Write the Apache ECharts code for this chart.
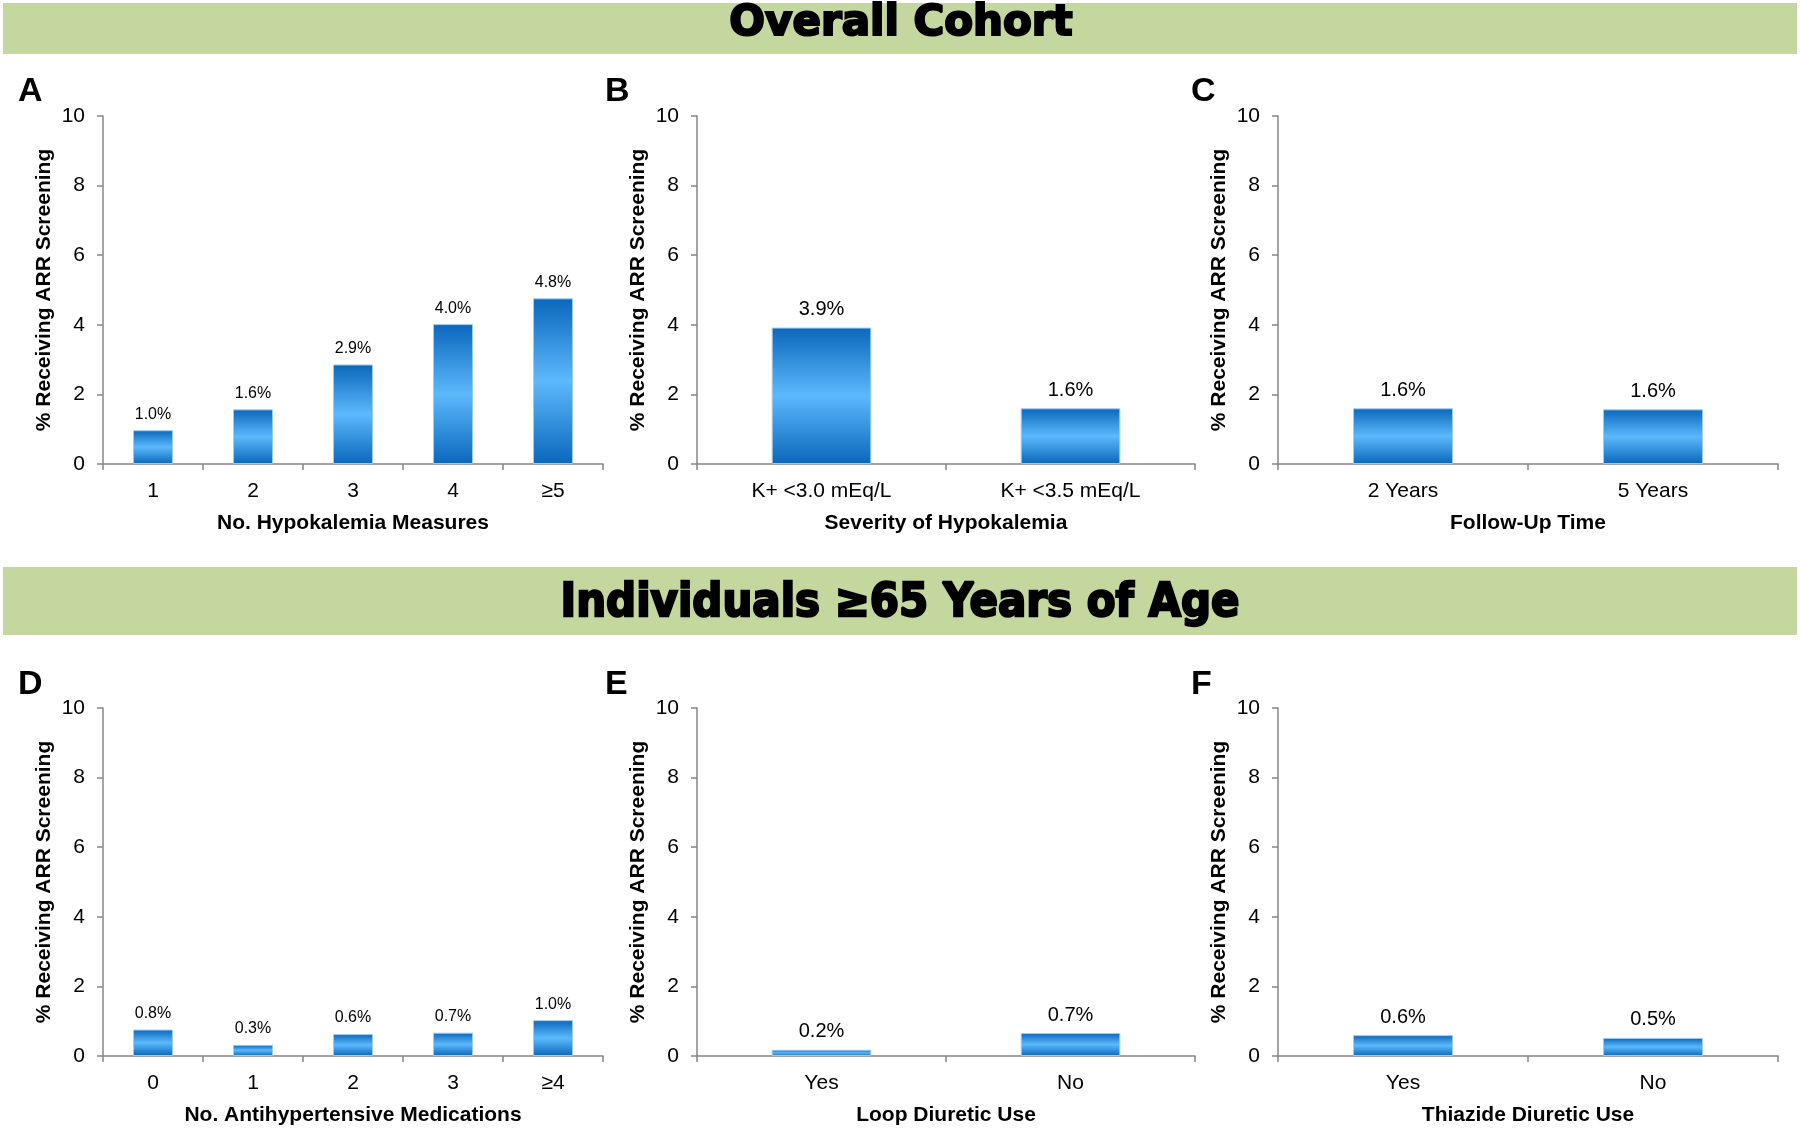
<!DOCTYPE html>
<html>
<head>
<meta charset="utf-8">
<script src="https://cdn.jsdelivr.net/npm/echarts@6/dist/echarts.min.js"></script>
<style>
  html, body { margin: 0; padding: 0; background: #ffffff; }
  #chart { width: 1800px; height: 1130px; }
</style>
</head>
<body>
<div id="chart"></div>
<script>
// ---------- data ----------
const catsA = ['1', '2', '3', '4', '≥5'];
const valsA = [0.97, 1.57, 2.86, 4.02, 4.76];
const catsB = ['K+ <3.0 mEq/L', 'K+ <3.5 mEq/L'];
const valsB = [3.92, 1.6];
const catsC = ['2 Years', '5 Years'];
const valsC = [1.6, 1.57];
const catsD = ['0', '1', '2', '3', '≥4'];
const valsD = [0.76, 0.32, 0.63, 0.67, 1.03];
const catsE = ['Yes', 'No'];
const valsE = [0.18, 0.66];
const catsF = ['Yes', 'No'];
const valsF = [0.6, 0.52];

const yMin = 0, yMax = 10, yStep = 2;
const yTitle = '% Receiving ARR Screening';
const xTitles = ['No. Hypokalemia Measures', 'Severity of Hypokalemia', 'Follow-Up Time',
                 'No. Antihypertensive Medications', 'Loop Diuretic Use', 'Thiazide Diuretic Use'];
const panelLetters = ['A', 'B', 'C', 'D', 'E', 'F'];
const sectionTitles = ['Overall Cohort', 'Individuals ≥65 Years of Age'];

// ---------- layout ----------
const panels = [
  { cats: catsA, vals: valsA, left: 103, top: 116, width: 500, lab: 16 },
  { cats: catsB, vals: valsB, left: 697, top: 116, width: 498, lab: 20 },
  { cats: catsC, vals: valsC, left: 1278, top: 116, width: 500, lab: 20 },
  { cats: catsD, vals: valsD, left: 103, top: 708, width: 500, lab: 16 },
  { cats: catsE, vals: valsE, left: 697, top: 708, width: 498, lab: 20 },
  { cats: catsF, vals: valsF, left: 1278, top: 708, width: 500, lab: 20 }
];
const plotH = 348;
const FONT = '"Liberation Sans", Arial, sans-serif';
const TITLE_FONT = '"DejaVu Sans", sans-serif';
const axisGray = '#868686';

const barColor = {
  type: 'linear', x: 0, y: 0, x2: 0, y2: 1,
  colorStops: [
    { offset: 0, color: '#0a67bc' },
    { offset: 0.5, color: '#5cb9fc' },
    { offset: 1, color: '#0a67bc' }
  ]
};

const grid = [], xAxis = [], yAxis = [], series = [];
panels.forEach((p, i) => {
  grid.push({ left: p.left, top: p.top, width: p.width, height: plotH, containLabel: false });
  xAxis.push({
    type: 'category', gridIndex: i, data: p.cats,
    name: xTitles[i], nameLocation: 'middle', nameGap: 49,
    nameTextStyle: { fontFamily: FONT, fontWeight: 'bold', fontSize: 21, color: '#000' },
    axisLine: { lineStyle: { color: axisGray, width: 1.5 } },
    axisTick: { show: true, length: 6, lineStyle: { color: axisGray, width: 1.5 } },
    axisLabel: { fontFamily: FONT, fontSize: 21, color: '#000', margin: 17 },
    splitLine: { show: false }
  });
  yAxis.push({
    type: 'value', gridIndex: i, min: yMin, max: yMax, interval: yStep,
    name: yTitle, nameLocation: 'middle', nameGap: 48, nameRotate: 90,
    nameTextStyle: { fontFamily: FONT, fontWeight: 'bold', fontSize: 21, color: '#000' },
    axisLine: { show: true, lineStyle: { color: axisGray, width: 1.5 } },
    axisTick: { show: true, length: 6, lineStyle: { color: axisGray, width: 1.5 } },
    axisLabel: { fontFamily: FONT, fontSize: 21, color: '#000', margin: 18 },
    splitLine: { show: false }
  });
  series.push({
    type: 'bar', xAxisIndex: i, yAxisIndex: i, data: p.vals,
    barWidth: '40%',
    itemStyle: { color: barColor, borderColor: '#9fcdf2', borderWidth: 1 },
    label: {
      show: true, position: 'top', distance: 8,
      fontFamily: FONT, fontSize: p.lab, color: '#000',
      formatter: (d) => d.value.toFixed(1) + '%'
    },
    silent: true, animation: false
  });
});

const graphic = [
  { type: 'rect', shape: { x: 3, y: 3, width: 1794, height: 51 }, style: { fill: '#c4d79f' }, z: -1 },
  { type: 'rect', shape: { x: 3, y: 567, width: 1794, height: 68 }, style: { fill: '#c4d79f' }, z: -1 },
  { type: 'text', x: 901, y: 24,
    style: { text: sectionTitles[0], font: 'bold 42px ' + TITLE_FONT, fill: '#000',
             stroke: '#000', lineWidth: 2.2, textAlign: 'center', textVerticalAlign: 'middle' } },
  { type: 'text', x: 900, y: 604, scaleY: 1.08,
    style: { text: sectionTitles[1], font: 'bold 42px ' + TITLE_FONT, fill: '#000',
             stroke: '#000', lineWidth: 2.2, textAlign: 'center', textVerticalAlign: 'middle' } }
];
const letterPos = [[18, 92], [605, 92], [1191, 92], [18, 685], [605, 685], [1191, 685]];
panelLetters.forEach((L, i) => {
  graphic.push({ type: 'text', x: letterPos[i][0], y: letterPos[i][1],
    style: { text: L, font: 'bold 34px ' + FONT, fill: '#000', textAlign: 'left', textVerticalAlign: 'middle' } });
});

const chart = echarts.init(document.getElementById('chart'), null, { renderer: 'canvas' });
chart.setOption({ animation: false, backgroundColor: '#fff', grid, xAxis, yAxis, series, graphic });
</script>
</body>
</html>
